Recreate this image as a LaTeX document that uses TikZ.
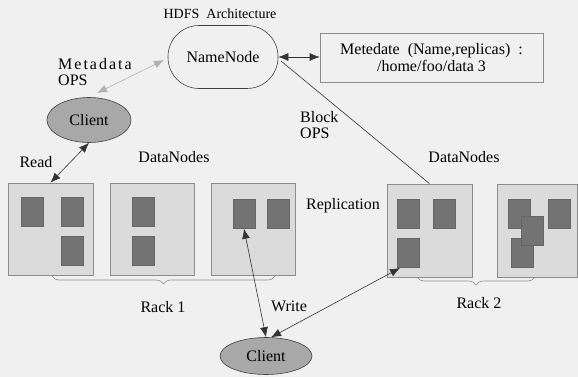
\documentclass[tikz,border=0pt]{standalone}
\usepackage{fontspec}
\setmainfont{Liberation Serif}
\usetikzlibrary{arrows.meta,shapes.geometric,decorations.pathreplacing}
\definecolor{bgc}{gray}{0.94}
\definecolor{dnfill}{gray}{0.86}
\definecolor{dnline}{gray}{0.55}
\definecolor{blk}{gray}{0.45}
\definecolor{cl}{gray}{0.66}
\tikzset{
  lbl/.style={font=\fontsize{16}{18}\selectfont, inner sep=0pt},
  dnbox/.style={draw=dnline, fill=dnfill, line width=0.6pt, minimum width=85pt, minimum height=92pt, inner sep=0pt},
  blkbox/.style={draw=black!60, fill=blk, line width=0.5pt, minimum width=22pt, minimum height=29pt, inner sep=0pt},
  clientnode/.style={ellipse, draw=black!75, fill=cl, line width=0.6pt, inner sep=0pt, font=\fontsize{16}{18}\selectfont},
  conn/.style={black!80, line width=0.6pt, {Latex[length=10pt,width=8pt]}-{Latex[length=10pt,width=8pt]}},
  bracestyle/.style={draw=dnline, line width=0.6pt, decorate, decoration={brace, mirror, amplitude=8pt}}
}
\begin{document}
\begin{tikzpicture}[x=1pt,y=-1pt]
\fill[bgc] (0,0) rectangle (578,377);
\useasboundingbox (0,0) rectangle (578,377);

% title
\node[inner sep=0pt, font=\fontsize{14}{16}\selectfont] (title) at (220,14) {HDFS\ \ Architecture};

% NameNode and metadata box
\node[draw=black!75, line width=0.6pt, rounded corners=31pt, minimum width=110pt, minimum height=63pt, inner sep=0pt, font=\fontsize{16}{18}\selectfont] (nn) at (223,57) {NameNode};
\node[draw=dnline, line width=0.6pt, minimum width=223pt, minimum height=49pt, inner sep=0pt, align=center, font=\fontsize{16}{17}\selectfont] (meta) at (431.5,57.5) {Metedate\hspace{0.5em}(Name,replicas)\hspace{0.5em}:\\/home/foo/data 3};

% clients
\node[clientnode, minimum width=84pt, minimum height=45pt] (c1) at (89,120) {Client};
\node[clientnode, minimum width=92pt, minimum height=37pt] (c2) at (266,356) {Client};

% datanodes
\node[dnbox] (d1) at (50.5,229) {};
\node[dnbox, minimum width=84pt] (d2) at (152,229) {};
\node[dnbox, minimum width=84pt] (d3) at (253,229) {};
\node[dnbox, minimum height=93pt] (d4) at (429.5,230.5) {};
\node[dnbox, minimum width=80pt, minimum height=93pt] (d5) at (537,230.5) {};

% blocks
\node[blkbox] (b11) at (32,211.5) {};
\node[blkbox] (b12) at (72,211.5) {};
\node[blkbox] (b13) at (72,250.5) {};
\node[blkbox] (b21) at (143.5,211.5) {};
\node[blkbox] (b22) at (143.5,250.5) {};
\node[blkbox] (b31) at (244,214) {};
\node[blkbox] (b32) at (278,214) {};
\node[blkbox] (b41) at (408,213.5) {};
\node[blkbox] (b42) at (444,213.5) {};
\node[blkbox] (b43) at (408,252.5) {};
\node[blkbox] (b51) at (519.5,213.5) {};
\node[blkbox] (b53) at (522,252.5) {};
\node[blkbox] (b52) at (532,230.5) {};
\node[blkbox] (b54) at (559.5,213.5) {};

% labels
\node[lbl, anchor=west] (mdl) at (58,64) {M\kern2pt e\kern2pt t\kern2pt a\kern2pt d\kern2pt a\kern2pt t\kern2pt a};
\node[lbl, anchor=west] (mdo) at (58,80) {OPS};
\node[lbl, anchor=west] (bkl) at (300,117) {Block};
\node[lbl, anchor=west] (bko) at (300,133) {OPS};
\node[lbl] (read) at (36,162) {Read};
\node[lbl] (dnl1) at (174,157) {DataNodes};
\node[lbl] (dnl2) at (464,157) {DataNodes};
\node[lbl] (repl) at (343,206) {Replication};
\node[lbl] (rk1) at (163,307) {Rack 1};
\node[lbl] (rk2) at (479,303) {Rack 2};
\node[lbl] (wr) at (289,306) {Write};

% connector end points
\coordinate (nnbo) at (281,61);
\coordinate (mdc) at (97,93);
\coordinate (mdn) at (164,60);
\coordinate (repb) at (400,268);

% connectors
\draw[conn] (nn.east) -- (nn.east -| meta.west);
\draw[black!80, line width=0.6pt] (nnbo) -- (d4.north);
\draw[conn, black!30] (mdc) -- (mdn);
\draw[conn] (c1.south) -- (d1.north);
\draw[conn] (b31.south) -- (c2.north);
\draw[conn] (c2.75) -- (repb);

% braces
\coordinate (r1a) at (52,276);
\coordinate (r1b) at (275,276);
\coordinate (r2a) at (417,277);
\coordinate (r2b) at (535,277);
\draw[bracestyle] (r1a) -- (r1b);
\draw[bracestyle] (r2a) -- (r2b);
\end{tikzpicture}
\end{document}
